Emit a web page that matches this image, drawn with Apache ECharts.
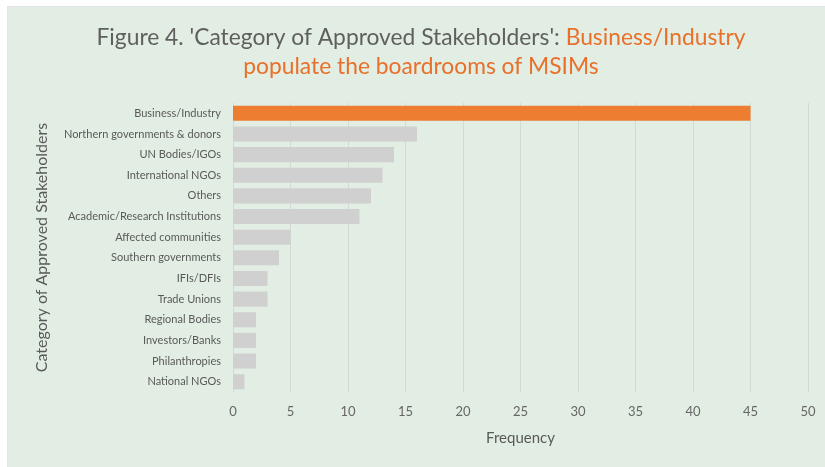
<!DOCTYPE html>
<html>
<head>
<meta charset="utf-8">
<script src="https://cdn.jsdelivr.net/npm/echarts@6/dist/echarts.min.js"></script>
<style>
  html, body { margin: 0; padding: 0; background: #ffffff; }
  #chart { width: 825px; height: 467px; }
</style>
</head>
<body>
<div id="chart"></div>
<script>
var categories = [
  'Business/Industry', 'Northern governments & donors', 'UN Bodies/IGOs',
  'International NGOs', 'Others', 'Academic/Research Institutions',
  'Affected communities', 'Southern governments', 'IFIs/DFIs',
  'Trade Unions', 'Regional Bodies', 'Investors/Banks', 'Philanthropies',
  'National NGOs'
];
var values = [45, 16, 14, 13, 12, 11, 5, 4, 3, 3, 2, 2, 2, 1];
var highlighted = ['Business/Industry'];

var font = 'Lato, "Open Sans", sans-serif';
var chart = echarts.init(document.getElementById('chart'));

var option = {
  backgroundColor: '#ffffff',
  textStyle: { fontFamily: font },
  graphic: [{
    type: 'rect',
    z: -10,
    shape: { x: 7.5, y: 6.5, width: 830, height: 470 },
    style: { fill: '#e2eee3', stroke: '#e3e3e3', lineWidth: 1 }
  }, {
    // chart title, centred a little right of the canvas middle as in the original
    type: 'text',
    x: 421,
    y: 23,
    style: {
      text: "Figure 4. 'Category of Approved Stakeholders': {o|Business/Industry}\n{o|populate the boardrooms of MSIMs}",
      align: 'center',
      verticalAlign: 'top',
      fontFamily: font,
      fontSize: 22.8,
      fill: '#5f5f5f',
      lineHeight: 29,
      rich: {
        o: { fontFamily: font, fontSize: 22.8, fill: '#e8702a', lineHeight: 29 }
      }
    }
  }],
  grid: { left: 233, right: 17, top: 103, bottom: 75 },
  xAxis: {
    type: 'value',
    min: 0,
    max: 50,
    interval: 5,
    name: 'Frequency',
    nameLocation: 'middle',
    nameGap: 39,
    nameTextStyle: { fontFamily: font, fontSize: 15, color: '#595959' },
    axisLine: { show: false },
    axisTick: { show: false },
    axisLabel: { fontFamily: font, fontSize: 13, color: '#666666', margin: 13 },
    splitLine: { show: true, lineStyle: { color: '#d3dad4', width: 1 } }
  },
  yAxis: {
    type: 'category',
    inverse: true,
    data: categories,
    name: 'Category of Approved Stakeholders',
    nameLocation: 'middle',
    nameGap: 183,
    nameTextStyle: { fontFamily: font, fontSize: 16, color: '#595959' },
    axisLine: { show: false },
    axisTick: { show: false },
    axisLabel: { fontFamily: font, fontSize: 11, color: '#595959', margin: 12 }
  },
  series: [{
    type: 'bar',
    barCategoryGap: '27%',
    silent: true,
    data: values.map(function (v, i) {
      return {
        value: v,
        itemStyle: { color: highlighted.indexOf(categories[i]) >= 0 ? '#ed7d31' : '#d0d0d0' }
      };
    })
  }]
};

chart.setOption(option);
</script>
</body>
</html>
